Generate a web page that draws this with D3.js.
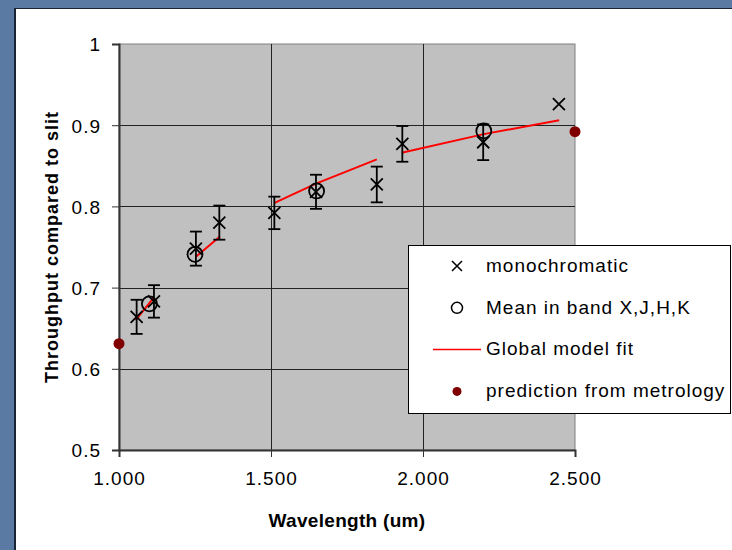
<!DOCTYPE html>
<html>
<head>
<meta charset="utf-8">
<script src="https://cdn.jsdelivr.net/npm/d3@7"></script>
<style>
  html, body { margin: 0; padding: 0; background: #5a7aa3; }
  svg { display: block; font-family: "Liberation Sans", Arial, sans-serif; }
</style>
</head>
<body>
<svg id="chart" width="732" height="550"></svg>
<script>
// monochromatic measurements (x markers with error bars)
const monoWl  = [1.058, 1.115, 1.253, 1.330, 1.511, 1.648, 1.848, 1.932, 2.198, 2.447]
const monoVal = [0.664, 0.683, 0.748, 0.780, 0.792, 0.818, 0.827, 0.877, 0.879, 0.926]
const monoErr = [0.021, 0.020, 0.021, 0.021, 0.020, 0.021, 0.022, 0.022, 0.022, null]

// mean in band X,J,H,K (open circles)
const bandWl  = [1.10, 1.25, 1.65, 2.20]
const bandVal = [0.680, 0.741, 0.819, 0.893]

// global model fit, one segment per band
const fitWl  = [[1.055, 1.113], [1.253, 1.332], [1.510, 1.648, 1.848], [1.930, 2.200, 2.448]]
const fitVal = [[0.660, 0.687], [0.738, 0.763], [0.804, 0.828, 0.858], [0.866, 0.889, 0.906]]

// prediction from metrology
const predWl  = [1.0, 2.5]
const predVal = [0.631, 0.892]

const xTicks = [1.0, 1.5, 2.0, 2.5]
const yTicks = [0.5, 0.6, 0.7, 0.8, 0.9, 1.0]

const legendItems = ["monochromatic", "Mean in band X,J,H,K", "Global model fit", "prediction from metrology"]

const svg = d3.select("#chart")
const W = 732, H = 550

// blue frame and white chart panel
svg.append("rect").attr("x", 0).attr("y", 0).attr("width", W).attr("height", H).attr("fill", "#5a7aa3")
svg.append("rect").attr("x", 14).attr("y", 8).attr("width", W - 14).attr("height", H - 8).attr("fill", "#1a2433")
svg.append("rect").attr("x", 16).attr("y", 9).attr("width", W - 16).attr("height", H - 9).attr("fill", "#fff")

const plot = { left: 119, right: 575, top: 44, bottom: 450 }

const x = d3.scaleLinear().domain([1.0, 2.5]).range([plot.left, plot.right])
const y = d3.scaleLinear().domain([0.5, 1.0]).range([plot.bottom, plot.top])

svg.append("rect")
  .attr("x", plot.left).attr("y", plot.top)
  .attr("width", plot.right - plot.left).attr("height", plot.bottom - plot.top)
  .attr("fill", "#c0c0c0")
  .attr("stroke", "#808080")

// grid
const grid = svg.append("g")
grid.selectAll("line.h").data(yTicks.filter(d => d > 0.5 && d < 1.0)).join("line")
  .attr("x1", plot.left).attr("x2", plot.right)
  .attr("y1", d => Math.round(y(d)) + 0.5).attr("y2", d => Math.round(y(d)) + 0.5)
  .attr("stroke", "#222").attr("stroke-width", 1)
grid.selectAll("line.v").data(xTicks.filter(d => d > 1.0 && d < 2.5)).join("line")
  .attr("y1", plot.top).attr("y2", plot.bottom)
  .attr("x1", d => Math.round(x(d)) + 0.5).attr("x2", d => Math.round(x(d)) + 0.5)
  .attr("stroke", "#222").attr("stroke-width", 1)

// axes
const yAxis = svg.append("g")
  .attr("transform", `translate(${plot.left},0)`)
  .call(d3.axisLeft(y).tickValues(yTicks).tickSize(7).tickPadding(11)
    .tickFormat(d => d === 1 ? "1" : d3.format(".1f")(d)))
const xAxis = svg.append("g")
  .attr("transform", `translate(0,${plot.bottom})`)
  .call(d3.axisBottom(x).tickValues(xTicks).tickSize(7).tickPadding(15)
    .tickFormat(d3.format(".3f")))

;[xAxis, yAxis].forEach(a => {
  a.select(".domain").attr("stroke", "#333").attr("stroke-width", 2)
  a.selectAll(".tick line").attr("stroke", "#333")
  a.selectAll("text").attr("font-size", 19).attr("fill", "#000")
    .attr("font-family", "Liberation Sans, Arial, sans-serif")
    .style("letter-spacing", "1px")
})
yAxis.selectAll("text").attr("dy", "0.36em")

// axis titles
svg.append("text")
  .attr("x", (plot.left + plot.right) / 2).attr("y", 527)
  .attr("text-anchor", "middle")
  .attr("font-size", 19).attr("font-weight", "bold")
  .style("letter-spacing", "0.3px")
  .text("Wavelength (um)")
svg.append("text")
  .attr("transform", `translate(58,${(plot.top + plot.bottom) / 2}) rotate(-90)`)
  .attr("text-anchor", "middle")
  .attr("font-size", 18).attr("font-weight", "bold")
  .style("letter-spacing", "1px")
  .text("Throughput compared to slit")

const marks = svg.append("g")

// fit segments
const line = d3.line().x(d => x(d[0])).y(d => y(d[1]))
fitWl.forEach((seg, i) => {
  marks.append("path")
    .datum(seg.map((w, j) => [w, fitVal[i][j]]))
    .attr("d", line)
    .attr("fill", "none")
    .attr("stroke", "#ff0000")
    .attr("stroke-width", 2)
})

// error bars
const mono = monoWl.map((w, i) => ({ w, v: monoVal[i], e: monoErr[i] }))
const cap = 6
mono.filter(d => d.e != null).forEach(d => {
  const cx = x(d.w), y1 = y(d.v + d.e), y2 = y(d.v - d.e)
  const g = marks.append("g").attr("stroke", "#000").attr("stroke-width", 1.8)
  g.append("line").attr("x1", cx).attr("x2", cx).attr("y1", y1).attr("y2", y2)
  g.append("line").attr("x1", cx - cap).attr("x2", cx + cap).attr("y1", y1).attr("y2", y1)
  g.append("line").attr("x1", cx - cap).attr("x2", cx + cap).attr("y1", y2).attr("y2", y2)
})

// band circles
marks.selectAll("circle.band")
  .data(bandWl.map((w, i) => ({ w, v: bandVal[i] })))
  .join("circle")
  .attr("cx", d => x(d.w)).attr("cy", d => y(d.v)).attr("r", 7.5)
  .attr("fill", "none").attr("stroke", "#000").attr("stroke-width", 1.8)

// x markers
const xs = 6
mono.forEach(d => {
  const cx = x(d.w), cy = y(d.v)
  marks.append("path")
    .attr("d", `M${cx - xs},${cy - xs}L${cx + xs},${cy + xs}M${cx - xs},${cy + xs}L${cx + xs},${cy - xs}`)
    .attr("stroke", "#000").attr("stroke-width", 1.8)
})

// metrology predictions
marks.selectAll("circle.pred")
  .data(predWl.map((w, i) => ({ w, v: predVal[i] })))
  .join("circle")
  .attr("cx", d => x(d.w)).attr("cy", d => y(d.v)).attr("r", 5.5)
  .attr("fill", "#800000")

// legend
const lg = svg.append("g")
lg.append("rect").attr("x", 408.5).attr("y", 245.5).attr("width", 322).attr("height", 168)
  .attr("fill", "#fff").attr("stroke", "#000")
const rowY = i => 266 + i * 41.8
const mx = 457
lg.append("path")
  .attr("d", `M${mx - 5},${rowY(0) - 5}L${mx + 5},${rowY(0) + 5}M${mx - 5},${rowY(0) + 5}L${mx + 5},${rowY(0) - 5}`)
  .attr("stroke", "#000").attr("stroke-width", 1.5)
lg.append("circle").attr("cx", mx).attr("cy", rowY(1)).attr("r", 5.5)
  .attr("fill", "none").attr("stroke", "#000").attr("stroke-width", 1.5)
lg.append("line").attr("x1", 433).attr("x2", 481).attr("y1", rowY(2)).attr("y2", rowY(2))
  .attr("stroke", "#ff0000").attr("stroke-width", 1.5)
lg.append("circle").attr("cx", mx).attr("cy", rowY(3)).attr("r", 4.5).attr("fill", "#800000")
lg.selectAll("text.item").data(legendItems).join("text")
  .attr("x", 486).attr("y", (d, i) => rowY(i) - 1)
  .attr("dy", "0.36em")
  .attr("font-size", 19)
  .style("letter-spacing", "1px")
  .text(d => d)
</script>
</body>
</html>
